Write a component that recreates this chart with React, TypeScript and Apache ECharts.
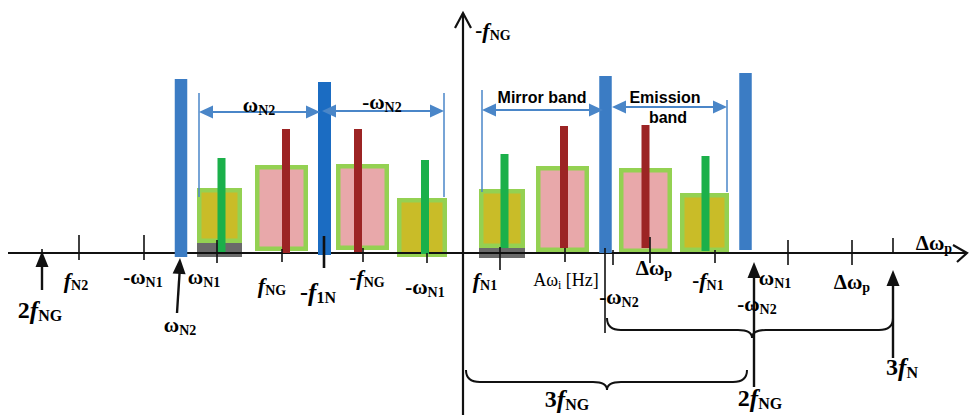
import React, { useEffect, useRef } from 'react';
import * as echarts from 'echarts';

// ---------- data (x in diagram units, y = amplitude above the frequency axis) ----------
const blueX = [181, 324.5, 605.5, 745.5];
const blueTop = [174, 171, 177, 180];
const blueBase = [-4, -2, 0, 3];

const greenX = [221.5, 425, 504.5, 705.5];
const greenTop = [95, 93, 99, 97];
const greenBase = [1, -1, 5, 2];

const redX = [286, 358, 564, 645.5];
const redTop = [124, 124, 127, 128];
const redBase = [0, 1, 5, 5];

// [x0, x1, top, bottom]
const yellowBoxes = [
  [197, 242, 65, 10],
  [397, 447, 55, -4],
  [479, 525, 64, 5],
  [680, 729, 60, 1],
];
const pinkBoxes = [
  [255, 308, 88, 2],
  [336, 389, 89, 3],
  [536, 589, 87, 1],
  [619, 672, 85, 0],
];
const grayBoxes = [
  [197, 242, 10, -4],
  [479, 525, 5, -5],
];

// [x, up, down, bold]
const ticks = [
  [42, 4, 0, 0],
  [79, 18, 7, 0],
  [144, 18, 7, 0],
  [217, 13, 10, 0],
  [282, 4, 9, 0],
  [324, 17, 15, 1],
  [363, 5, 9, 0],
  [427, 0, 10, 0],
  [500, 6, 17, 0],
  [565, 5, 9, 0],
  [605, 5, 80, 0],
  [613, 3, 12, 0],
  [650, 16, 10, 0],
  [715, 3, 10, 0],
  [788, 13, 12, 0],
  [852, 13, 12, 0],
  [893, 15, 0, 0],
];

// black up arrows [xBase, yBase, xTip, yTip]
const upArrows = [
  [42, -37, 42, 2],
  [177, -60, 180, -5],
  [754, -134, 754, -9],
  [893, -105, 893, -17],
];

// blue band arrows [xLeft, xRight, y]
const bandArrows = [
  [199, 320, 141],
  [322, 444, 142],
  [482, 603, 143],
  [612, 727, 146],
];
// blue band limits [x, top, bottom]
const bandLines = [
  [199, 160, 56],
  [444, 160, 56],
  [482, 163, 61],
  [727, 153, 61],
];

// braces [x0, x1, tipX, yEnd, yMid, yTip]
const braces = [
  [607, 893, 752, -65, -77, -85],
  [466, 747, 607, -117, -129, -137],
];

// axes [x0, y0, x1, y1]
const axes = [
  [8, 0, 967, 0],
  [463, -162, 463, 240],
];

const labelTexts = [
  '{n|-}{i|f}{s|NG}',
  '{i|f}{s|N2}',
  '{n|-ω}{s|N1}',
  '{n|ω}{s|N1}',
  '{i|f}{s|NG}',
  '{N|-}{I|f}{S|1N}',
  '{n|-}{i|f}{s|NG}',
  '{n|-ω}{s|N1}',
  '{i|f}{s|N1}',
  '{r|Aω}{rs|i}{r| [Hz]}',
  '{n|-ω}{s|N2}',
  '{n|Δω}{s|p}',
  '{n|-}{i|f}{s|N1}',
  '{n|ω}{s|N1}',
  '{n|-ω}{s|N2}',
  '{n|Δω}{s|p}',
  '{N|3}{I|f}{S|N}',
  '{N|2}{I|f}{S|NG}',
  '{N|3}{I|f}{S|NG}',
  '{N|2}{I|f}{S|NG}',
  '{n|ω}{s|N2}',
  '{n|ω}{s|N2}',
  '{n|-ω}{s|N2}',
  '{m|Mirror band}',
  '{m|Emission}',
  '{m|band}',
  '{n|Δω}{s|p}',
];
const labelX = [493, 76, 143, 204, 272, 318, 367, 425, 485, 566, 619, 654, 708, 775, 757, 852, 902, 760, 567, 40, 180, 259, 382, 542, 665, 668, 934];
const labelY = [223, -27, -24, -24, -32, -39, -24, -34, -27, -27, -44, -15, -27, -25, -51, -29, -114, -145, -146, -57, -72, 148, 151, 156, 156, 136, 10];

// ---------- styles ----------
const BLUE = '#3b7cc4';
const BLUE2 = '#1b6cc2';
const GREEN = '#1bb04a';
const RED = '#9c2424';
const BORDER = '#94d152';
const YELLOW = '#c9bc28';
const PINK = '#e8a8aa';
const GRAY = '#6a6a6a';
const ABLUE = '#4a86c8';
const INK = '#111111';
const SERIF = 'Liberation Serif';
const SANS = 'Liberation Sans';

const rich: any = {
  n: { fontFamily: SERIF, fontWeight: 'bold', fontSize: 21, lineHeight: 24, color: INK },
  i: { fontFamily: SERIF, fontWeight: 'bold', fontStyle: 'italic', fontSize: 22, lineHeight: 24, color: INK },
  s: { fontFamily: SERIF, fontWeight: 'bold', fontSize: 14, lineHeight: 14, verticalAlign: 'bottom', color: INK },
  N: { fontFamily: SERIF, fontWeight: 'bold', fontSize: 24, lineHeight: 26, color: INK },
  I: { fontFamily: SERIF, fontWeight: 'bold', fontStyle: 'italic', fontSize: 25, lineHeight: 26, color: INK },
  S: { fontFamily: SERIF, fontWeight: 'bold', fontSize: 16, lineHeight: 15, verticalAlign: 'bottom', color: INK },
  r: { fontFamily: SERIF, fontSize: 18, lineHeight: 22, color: INK },
  rs: { fontFamily: SERIF, fontSize: 12, lineHeight: 12, verticalAlign: 'bottom', color: INK },
  m: { fontFamily: SANS, fontWeight: 'bold', fontSize: 16, lineHeight: 20, color: INK },
};

function head(tip: number[], from: number[], len: number, half: number) {
  const dx = tip[0] - from[0];
  const dy = tip[1] - from[1];
  const d = Math.sqrt(dx * dx + dy * dy) || 1;
  const ux = dx / d, uy = dy / d;
  const bx = tip[0] - ux * len, by = tip[1] - uy * len;
  return [
    [tip[0], tip[1]],
    [bx - uy * half, by + ux * half],
    [bx + uy * half, by - ux * half],
  ];
}

function custom(name: string, data: any[], z: number, render: (p: any, api: any) => any) {
  return {
    type: 'custom',
    name,
    coordinateSystem: 'cartesian2d',
    data,
    z,
    silent: true,
    clip: false,
    renderItem: render,
  };
}

function buildOption() {
  const boxData = [
    ...yellowBoxes.map((b) => [...b, 0]),
    ...pinkBoxes.map((b) => [...b, 1]),
  ];
  const barData = [
    ...greenX.map((x, i) => [x, greenTop[i], greenBase[i], 0]),
    ...redX.map((x, i) => [x, redTop[i], redBase[i], 1]),
    ...blueX.map((x, i) => [x, blueTop[i], blueBase[i], i === 1 ? 3 : 2]),
  ];
  const barW = [8, 8, 12.5, 13];
  const barC = [GREEN, RED, BLUE, BLUE2];
  const labelData = labelTexts.map((_, i) => [labelX[i], labelY[i], i]);

  return {
    animation: false,
    backgroundColor: '#ffffff',
    grid: { left: 0, top: 0, right: 0, bottom: 0 },
    xAxis: { type: 'value', min: 0, max: 969, show: false },
    yAxis: { type: 'value', min: -162, max: 253, show: false },
    series: [
      custom('boxes', boxData, 1, (p: any, api: any) => {
        const a = api.coord([api.value(0), api.value(2)]);
        const b = api.coord([api.value(1), api.value(3)]);
        const w = b[0] - a[0], h = b[1] - a[1];
        return {
          type: 'group',
          children: [
            { type: 'rect', shape: { x: a[0], y: a[1], width: w, height: h }, style: { fill: BORDER } },
            {
              type: 'rect',
              shape: { x: a[0] + 4.5, y: a[1] + 4.5, width: w - 9, height: h - 9 },
              style: { fill: api.value(4) === 0 ? YELLOW : PINK },
            },
          ],
        };
      }),
      custom('gray', grayBoxes, 2, (p: any, api: any) => {
        const a = api.coord([api.value(0), api.value(2)]);
        const b = api.coord([api.value(1), api.value(3)]);
        return { type: 'rect', shape: { x: a[0], y: a[1], width: b[0] - a[0], height: b[1] - a[1] }, style: { fill: GRAY } };
      }),
      custom('axes', axes, 3, (p: any, api: any) => {
        const a = api.coord([api.value(0), api.value(1)]);
        const b = api.coord([api.value(2), api.value(3)]);
        const horiz = p.dataIndex === 0;
        const c1 = horiz ? [b[0] - 14, b[1] - 8] : [b[0] - 8, b[1] + 15];
        const c2 = horiz ? [b[0] - 10, b[1] + 9] : [b[0] + 8, b[1] + 15];
        return {
          type: 'group',
          children: [
            { type: 'line', shape: { x1: a[0], y1: a[1], x2: b[0], y2: b[1] }, style: { stroke: INK, lineWidth: 2.2 } },
            { type: 'polyline', shape: { points: [c1, b, c2] }, style: { stroke: INK, lineWidth: 2.2, fill: 'none' } },
          ],
        };
      }),
      custom('bars', barData, 4, (p: any, api: any) => {
        const k = api.value(3);
        const a = api.coord([api.value(0), api.value(1)]);
        const b = api.coord([api.value(0), api.value(2)]);
        const w = barW[k];
        return { type: 'rect', shape: { x: a[0] - w / 2, y: a[1], width: w, height: b[1] - a[1] }, style: { fill: barC[k] } };
      }),
      custom('ticks', ticks, 5, (p: any, api: any) => {
        const a = api.coord([api.value(0), api.value(1)]);
        const b = api.coord([api.value(0), -api.value(2)]);
        return {
          type: 'line',
          shape: { x1: a[0], y1: a[1], x2: b[0], y2: b[1] },
          style: { stroke: INK, lineWidth: api.value(3) ? 2.6 : 1.6 },
        };
      }),
      custom('upArrows', upArrows, 6, (p: any, api: any) => {
        const a = api.coord([api.value(0), api.value(1)]);
        const b = api.coord([api.value(2), api.value(3)]);
        return {
          type: 'group',
          children: [
            { type: 'line', shape: { x1: a[0], y1: a[1], x2: b[0], y2: b[1] + 8 }, style: { stroke: INK, lineWidth: 2.4 } },
            { type: 'polygon', shape: { points: head(b, a, 16, 6.5) }, style: { fill: INK } },
          ],
        };
      }),
      custom('bandLines', bandLines, 6, (p: any, api: any) => {
        const a = api.coord([api.value(0), api.value(1)]);
        const b = api.coord([api.value(0), api.value(2)]);
        return { type: 'line', shape: { x1: a[0], y1: a[1], x2: b[0], y2: b[1] }, style: { stroke: ABLUE, lineWidth: 1.5 } };
      }),
      custom('bandArrows', bandArrows, 7, (p: any, api: any) => {
        const a = api.coord([api.value(0), api.value(2)]);
        const b = api.coord([api.value(1), api.value(2)]);
        return {
          type: 'group',
          children: [
            { type: 'line', shape: { x1: a[0] + 8, y1: a[1], x2: b[0] - 8, y2: b[1] }, style: { stroke: ABLUE, lineWidth: 2 } },
            { type: 'polygon', shape: { points: head(a, b, 14, 6.5) }, style: { fill: ABLUE } },
            { type: 'polygon', shape: { points: head(b, a, 14, 6.5) }, style: { fill: ABLUE } },
          ],
        };
      }),
      custom('braces', braces, 6, (p: any, api: any) => {
        const e0 = api.coord([api.value(0), api.value(3)]);
        const e1 = api.coord([api.value(1), api.value(3)]);
        const m = api.coord([api.value(2), api.value(4)]);
        const t = api.coord([api.value(2), api.value(5)]);
        const yM = m[1];
        const r = 14;
        const d =
          `M${e0[0]} ${e0[1]} Q${e0[0]} ${yM} ${e0[0] + r} ${yM} L${t[0] - r} ${yM} ` +
          `Q${t[0]} ${yM} ${t[0]} ${t[1]} Q${t[0]} ${yM} ${t[0] + r} ${yM} ` +
          `L${e1[0] - r} ${yM} Q${e1[0]} ${yM} ${e1[0]} ${e1[1]}`;
        return { type: 'path', shape: { pathData: d }, style: { fill: 'none', stroke: INK, lineWidth: 2 } };
      }),
      custom('labels', labelData, 10, (p: any, api: any) => {
        const c = api.coord([api.value(0), api.value(1)]);
        return {
          type: 'text',
          x: c[0],
          y: c[1],
          style: {
            text: labelTexts[api.value(2)],
            rich,
            align: 'center',
            verticalAlign: 'middle',
          },
        };
      }),
    ],
  };
}

export default function App() {
  const ref = useRef<HTMLDivElement>(null);
  useEffect(() => {
    if (!ref.current) return;
    const chart = echarts.init(ref.current, undefined, { renderer: 'svg' });
    chart.setOption(buildOption() as any);
    return () => chart.dispose();
  }, []);
  return (
    <div
      ref={ref}
      style={{ position: 'fixed', left: 0, top: 0, width: 969, height: 415, background: '#ffffff' }}
    />
  );
}
